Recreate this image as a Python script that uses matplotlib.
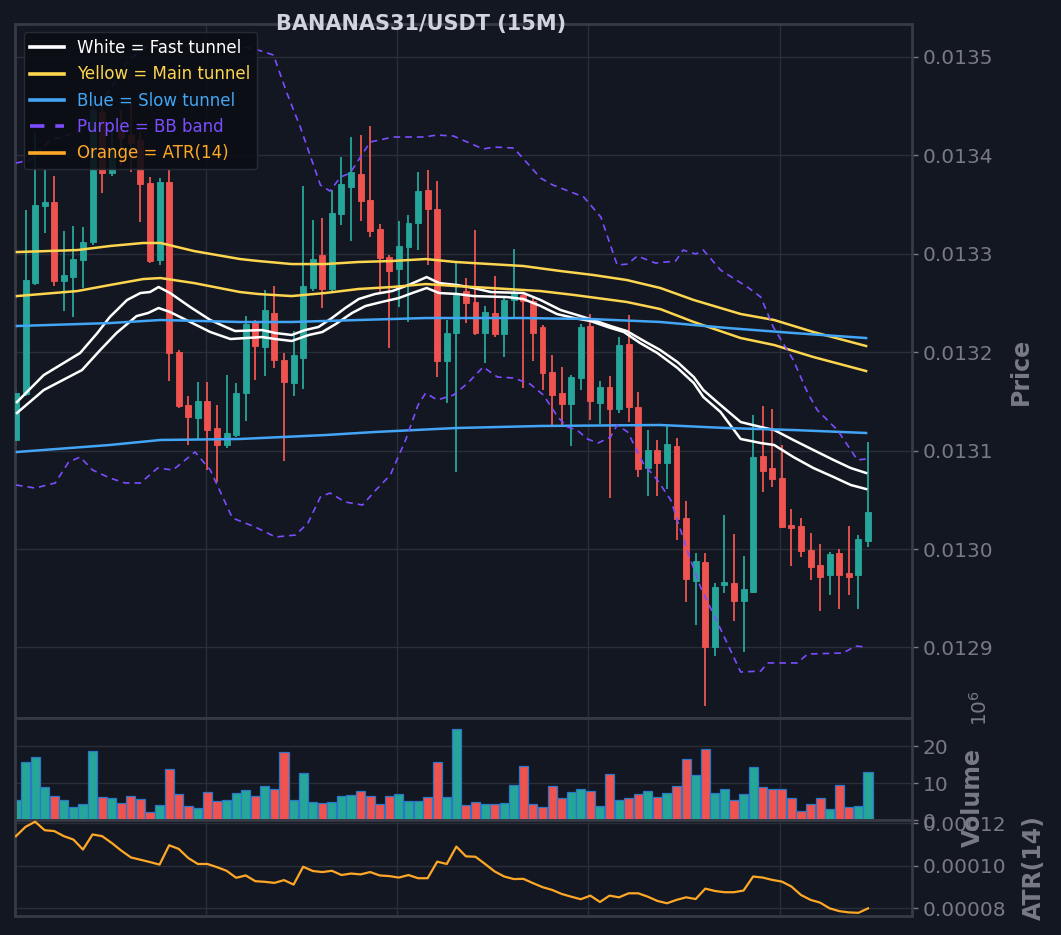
import numpy as np
import matplotlib
matplotlib.use("Agg")
import matplotlib.pyplot as plt
from matplotlib.ticker import FormatStrFormatter, FuncFormatter

# BANANAS31/USDT 15m candles
opens = [0.0131107, 0.0131574, 0.0132700, 0.0133482, 0.0133523, 0.0132721, 0.0132761, 0.0132934, 0.0133117, 0.0134436,
         0.0133817, 0.0134254, 0.0134203, 0.0134152, 0.0133716, 0.0132934, 0.0133726, 0.0132000, 0.0131462, 0.0131330,
         0.0131502, 0.0131228, 0.0131056, 0.0131157, 0.0131584, 0.0132294, 0.0132051, 0.0132396, 0.0131919, 0.0131685,
         0.0131939, 0.0132650, 0.0132985, 0.0132640, 0.0133401, 0.0133675, 0.0133807, 0.0133543, 0.0133249, 0.0132964,
         0.0132843, 0.0133066, 0.0133310, 0.0133645, 0.0133452, 0.0131909, 0.0132193, 0.0132619, 0.0132508, 0.0132193,
         0.0132396, 0.0132183, 0.0132528, 0.0132579, 0.0132518, 0.0132254, 0.0131797, 0.0131584, 0.0131472, 0.0131736,
         0.0132264, 0.0131482, 0.0131645, 0.0131421, 0.0132081, 0.0131442, 0.0130822, 0.0131005, 0.0130873, 0.0131046,
         0.0130315, 0.0129675, 0.0129868, 0.0129005, 0.0129635, 0.0129655, 0.0129472, 0.0129563, 0.0130944, 0.0130822,
         0.0130721, 0.0130244, 0.0130233, 0.0129990, 0.0129838, 0.0129736, 0.0129959, 0.0129756, 0.0129736, 0.0130081]
highs = [0.0131634, 0.0133441, 0.0134223, 0.0133848, 0.0133787, 0.0133228, 0.0133279, 0.0133269, 0.0134558, 0.0134558,
         0.0134304, 0.0134457, 0.0134528, 0.0134233, 0.0133777, 0.0133766, 0.0133848, 0.0132020, 0.0131553, 0.0131695,
         0.0131695, 0.0131462, 0.0131766, 0.0131685, 0.0132365, 0.0132325, 0.0132629, 0.0132670, 0.0131990, 0.0132213,
         0.0133685, 0.0133340, 0.0133360, 0.0133645, 0.0133980, 0.0134183, 0.0134203, 0.0134294, 0.0133299, 0.0132985,
         0.0133330, 0.0133391, 0.0133827, 0.0133848, 0.0133736, 0.0132325, 0.0132903, 0.0132751, 0.0133239, 0.0132467,
         0.0132772, 0.0132548, 0.0133046, 0.0132599, 0.0132548, 0.0132274, 0.0131970, 0.0131848, 0.0131766, 0.0132284,
         0.0132386, 0.0131706, 0.0131756, 0.0132152, 0.0132376, 0.0131594, 0.0131208, 0.0131107, 0.0131259, 0.0131127,
         0.0130487, 0.0129959, 0.0129959, 0.0129655, 0.0130345, 0.0130152, 0.0129929, 0.0131360, 0.0131452, 0.0131421,
         0.0131056, 0.0130406, 0.0130315, 0.0130162, 0.0130051, 0.0129970, 0.0130000, 0.0130233, 0.0130142, 0.0131086]
lows = [0.0131046, 0.0131553, 0.0132680, 0.0133208, 0.0132670, 0.0132416, 0.0132355, 0.0132650, 0.0133086, 0.0133614,
        0.0133787, 0.0133898, 0.0133827, 0.0133320, 0.0132903, 0.0132883, 0.0131706, 0.0131431, 0.0131056, 0.0131107,
        0.0130802, 0.0130680, 0.0131025, 0.0131137, 0.0131299, 0.0131716, 0.0131756, 0.0131838, 0.0130893, 0.0131553,
        0.0131624, 0.0132619, 0.0132447, 0.0132619, 0.0133289, 0.0133127, 0.0133330, 0.0133167, 0.0132599, 0.0132041,
        0.0132457, 0.0132305, 0.0133035, 0.0132883, 0.0131746, 0.0131482, 0.0130782, 0.0132294, 0.0132173, 0.0131888,
        0.0132152, 0.0131949, 0.0132355, 0.0131634, 0.0131909, 0.0131614, 0.0131259, 0.0131239, 0.0131046, 0.0131614,
        0.0131310, 0.0131269, 0.0130518, 0.0131381, 0.0131289, 0.0130731, 0.0130538, 0.0130538, 0.0130609, 0.0130091,
        0.0129462, 0.0129228, 0.0128406, 0.0128914, 0.0129553, 0.0129269, 0.0128954, 0.0129553, 0.0130579, 0.0130629,
        0.0130213, 0.0129827, 0.0129919, 0.0129685, 0.0129371, 0.0129533, 0.0129391, 0.0129533, 0.0129391, 0.0130020]
closes = [0.0131584, 0.0132731, 0.0133492, 0.0133523, 0.0132721, 0.0132782, 0.0132944, 0.0133117, 0.0134457, 0.0133817,
          0.0134051, 0.0134172, 0.0134122, 0.0133706, 0.0132924, 0.0133726, 0.0131990, 0.0131452, 0.0131340, 0.0131502,
          0.0131208, 0.0131056, 0.0131178, 0.0131584, 0.0132284, 0.0132061, 0.0132426, 0.0131919, 0.0131695, 0.0131970,
          0.0132670, 0.0132944, 0.0132640, 0.0133411, 0.0133706, 0.0133827, 0.0133533, 0.0133228, 0.0132954, 0.0132822,
          0.0133076, 0.0133310, 0.0133634, 0.0133452, 0.0131909, 0.0132193, 0.0132579, 0.0132497, 0.0132193, 0.0132406,
          0.0132183, 0.0132528, 0.0132609, 0.0132518, 0.0132193, 0.0131787, 0.0131563, 0.0131472, 0.0131746, 0.0132254,
          0.0131502, 0.0131645, 0.0131421, 0.0132071, 0.0131442, 0.0130812, 0.0131005, 0.0130873, 0.0131066, 0.0130305,
          0.0129695, 0.0129878, 0.0129005, 0.0129614, 0.0129665, 0.0129472, 0.0129594, 0.0130934, 0.0130792, 0.0130711,
          0.0130223, 0.0130213, 0.0129980, 0.0129817, 0.0129716, 0.0129949, 0.0129736, 0.0129716, 0.0130102, 0.0130376]

# volume in units (shown as x10^6 on the axis)
volume = [5.5e6, 15.7e6, 17.0e6, 8.9e6, 6.4e6, 5.5e6, 3.6e6, 4.4e6, 18.6e6, 6.25e6,
          6.0e6, 4.6e6, 6.4e6, 5.7e6, 2.1e6, 4.1e6, 13.75e6, 7.0e6, 3.75e6, 3.3e6,
          7.6e6, 5.1e6, 5.5e6, 7.3e6, 8.1e6, 6.4e6, 9.2e6, 8.4e6, 18.3e6, 5.3e6,
          12.7e6, 4.9e6, 4.55e6, 4.9e6, 6.5e6, 6.8e6, 7.9e6, 6.4e6, 4.3e6, 6.4e6,
          7.05e6, 5.2e6, 5.2e6, 6.25e6, 15.6e6, 6.25e6, 24.7e6, 4.1e6, 4.9e6, 4.3e6,
          4.3e6, 4.6e6, 9.5e6, 14.55e6, 4.3e6, 3.5e6, 9.1e6, 5.9e6, 7.6e6, 8.4e6,
          7.9e6, 3.8e6, 12.4e6, 5.5e6, 6.0e6, 7.05e6, 7.9e6, 6.25e6, 7.3e6, 9.2e6,
          16.4e6, 12.1e6, 19.1e6, 7.3e6, 8.4e6, 5.4e6, 7.05e6, 14.3e6, 8.9e6, 8.4e6,
          8.4e6, 6.0e6, 2.5e6, 4.4e6, 6.0e6, 3.0e6, 9.5e6, 3.6e6, 3.9e6, 12.9e6]

atr = [0.0001140, 0.0001184, 0.0001208, 0.0001168, 0.0001164, 0.0001140, 0.0001124, 0.0001077, 0.0001148, 0.0001140,
       0.0001108, 0.0001072, 0.0001040, 0.0001029, 0.0001018, 0.0001006, 0.0001097, 0.0001080, 0.0001037, 0.0001009,
       0.0001009, 0.0000994, 0.0000977, 0.0000944, 0.0000955, 0.0000928, 0.0000925, 0.0000920, 0.0000933, 0.0000912,
       0.0000996, 0.0000976, 0.0000971, 0.0000977, 0.0000957, 0.0000964, 0.0000960, 0.0000971, 0.0000955, 0.0000952,
       0.0000945, 0.0000957, 0.0000942, 0.0000942, 0.0001020, 0.0001009, 0.0001091, 0.0001045, 0.0001043, 0.0001009,
       0.0000974, 0.0000950, 0.0000938, 0.0000939, 0.0000919, 0.0000900, 0.0000887, 0.0000868, 0.0000855, 0.0000843,
       0.0000860, 0.0000830, 0.0000860, 0.0000852, 0.0000871, 0.0000871, 0.0000855, 0.0000835, 0.0000824, 0.0000840,
       0.0000852, 0.0000844, 0.0000893, 0.0000882, 0.0000876, 0.0000876, 0.0000884, 0.0000950, 0.0000945, 0.0000934,
       0.0000926, 0.0000903, 0.0000863, 0.0000840, 0.0000827, 0.0000800, 0.0000787, 0.0000781, 0.0000779, 0.0000800]

# tunnel / band lines, sampled at candle positions
fast_a_x = [0.1, 2.9, 6.7, 8.5, 9.8, 11.6, 13.0, 14.0, 14.9, 16.1, 18.2, 20.3, 21.9, 22.9, 25.7, 27.1, 28.8, 30.2,
            31.6, 33.0, 34.4, 35.8, 37.5, 39.3, 41.0, 42.9, 44.2, 46.1, 47.8, 49.6, 53.0, 54.8, 56.9, 58.6, 60.3,
            62.1, 63.8, 65.6, 67.3, 69.1, 70.8, 71.8, 73.6, 75.7, 77.8, 79.2, 81.2, 83.3, 85.4, 87.2, 88.8]
fast_a = [0.0131492, 0.0131766, 0.0131990, 0.0132193, 0.0132355, 0.0132528, 0.0132599, 0.0132609, 0.0132660, 0.0132599,
          0.0132457, 0.0132325, 0.0132254, 0.0132213, 0.0132223, 0.0132193, 0.0132173, 0.0132223, 0.0132254, 0.0132345,
          0.0132447, 0.0132538, 0.0132589, 0.0132619, 0.0132680, 0.0132761, 0.0132700, 0.0132680, 0.0132650, 0.0132609,
          0.0132599, 0.0132528, 0.0132426, 0.0132376, 0.0132325, 0.0132264, 0.0132213, 0.0132112, 0.0132020, 0.0131898,
          0.0131746, 0.0131614, 0.0131462, 0.0131289, 0.0131239, 0.0131208, 0.0131107, 0.0131005, 0.0130904, 0.0130822,
          0.0130772]
fast_b_x = [0.1, 2.9, 6.9, 8.8, 10.5, 12.6, 13.8, 14.9, 16.1, 18.2, 20.3, 22.4, 25.7, 27.1, 28.8, 30.6, 32.0, 33.4,
            35.1, 36.5, 38.2, 40.0, 41.4, 42.9, 44.2, 46.1, 47.8, 51.3, 53.0, 54.8, 56.5, 58.3, 60.0, 61.8, 63.5,
            65.2, 67.0, 69.1, 70.8, 71.8, 73.6, 75.7, 77.8, 79.2, 81.2, 83.3, 85.4, 87.2, 88.8]
fast_b = [0.0131381, 0.0131614, 0.0131817, 0.0132020, 0.0132193, 0.0132365, 0.0132396, 0.0132447, 0.0132406, 0.0132305,
          0.0132203, 0.0132132, 0.0132152, 0.0132132, 0.0132112, 0.0132173, 0.0132203, 0.0132284, 0.0132396, 0.0132467,
          0.0132508, 0.0132548, 0.0132599, 0.0132650, 0.0132599, 0.0132589, 0.0132568, 0.0132558, 0.0132538, 0.0132467,
          0.0132386, 0.0132345, 0.0132315, 0.0132254, 0.0132203, 0.0132091, 0.0131990, 0.0131838, 0.0131685, 0.0131543,
          0.0131391, 0.0131117, 0.0131076, 0.0131056, 0.0130934, 0.0130822, 0.0130731, 0.0130650, 0.0130609]

main_a_x = [0.1, 6.4, 9.8, 13.3, 15.1, 18.6, 23.4, 25.3, 28.8, 32.3, 35.8, 39.3, 42.8, 45.9, 47.8, 53.0, 56.9,
            60.3, 63.8, 67.3, 70.8, 75.7, 79.2, 83.3, 88.8]
main_a = [0.0133015, 0.0133035, 0.0133076, 0.0133107, 0.0133107, 0.0133025, 0.0132944, 0.0132924, 0.0132893, 0.0132893,
          0.0132914, 0.0132924, 0.0132944, 0.0132914, 0.0132903, 0.0132873, 0.0132822, 0.0132782, 0.0132731, 0.0132650,
          0.0132528, 0.0132386, 0.0132325, 0.0132203, 0.0132061]
main_b_x = [0.1, 6.4, 9.8, 13.3, 15.1, 18.6, 23.4, 25.3, 28.8, 32.3, 35.8, 39.3, 42.8, 45.9, 49.6, 54.8, 58.3,
            63.8, 67.3, 70.8, 75.7, 79.2, 83.3, 88.8]
main_b = [0.0132568, 0.0132619, 0.0132680, 0.0132741, 0.0132751, 0.0132700, 0.0132609, 0.0132589, 0.0132568, 0.0132599,
          0.0132640, 0.0132660, 0.0132690, 0.0132670, 0.0132650, 0.0132619, 0.0132579, 0.0132508, 0.0132436, 0.0132305,
          0.0132142, 0.0132071, 0.0131949, 0.0131807]

slow_a_x = [0.1, 9.8, 15.1, 23.4, 28.8, 35.8, 42.8, 53.0, 60.0, 67.3, 74.3, 81.2, 88.8]
slow_a = [0.0132264, 0.0132294, 0.0132325, 0.0132305, 0.0132305, 0.0132325, 0.0132345, 0.0132345, 0.0132335, 0.0132305,
          0.0132244, 0.0132193, 0.0132142]
slow_b_x = [0.1, 9.8, 15.1, 23.4, 32.3, 37.5, 45.9, 54.8, 67.3, 74.3, 81.2, 88.8]
slow_b = [0.0130985, 0.0131056, 0.0131107, 0.0131117, 0.0131157, 0.0131188, 0.0131228, 0.0131249, 0.0131259, 0.0131228,
          0.0131208, 0.0131178]

bb_up_x = [0.0, 1.5, 3.6, 6.4, 7.8, 9.8, 11.6, 13.3, 16.1, 20.6, 23.4, 25.3, 26.9, 28.3, 29.7, 31.8, 32.8, 33.9,
           34.9, 37.0, 39.4, 42.6, 44.0, 45.7, 48.8, 49.9, 52.0, 54.8, 56.1, 59.3, 61.1, 62.8, 63.9, 64.9, 66.8,
           68.9, 69.7, 71.0, 71.8, 73.6, 76.4, 77.8, 79.1, 81.2, 82.7, 83.7, 85.8, 87.9, 88.8]
bb_up = [0.0133919, 0.0133949, 0.0134152, 0.0134233, 0.0134406, 0.0134660, 0.0134944, 0.0135086, 0.0135107, 0.0135117,
         0.0135107, 0.0135066, 0.0135015, 0.0134629, 0.0134284, 0.0133695, 0.0133634, 0.0133776, 0.0133817, 0.0134132,
         0.0134183, 0.0134183, 0.0134203, 0.0134193, 0.0134061, 0.0134081, 0.0134071, 0.0133766, 0.0133695, 0.0133574,
         0.0133370, 0.0132883, 0.0132893, 0.0132975, 0.0132903, 0.0132924, 0.0133035, 0.0132995, 0.0133035, 0.0132832,
         0.0132660, 0.0132558, 0.0132254, 0.0131919, 0.0131584, 0.0131411, 0.0131208, 0.0130904, 0.0130914]
bb_lo_x = [0.0, 2.0, 4.1, 5.5, 6.7, 8.0, 9.8, 11.4, 13.0, 14.8, 16.4, 18.7, 20.3, 22.6, 25.0, 27.1, 29.2, 30.5,
           31.8, 32.8, 34.4, 36.2, 37.5, 39.1, 40.7, 42.0, 42.8, 44.0, 45.7, 47.2, 48.8, 50.3, 52.0, 53.7, 55.1,
           56.6, 57.6, 58.6, 59.7, 60.8, 62.1, 62.8, 63.9, 65.5, 67.0, 68.4, 70.1, 71.5, 73.3, 75.7, 77.8, 78.5,
           81.6, 82.7, 86.4, 87.7, 88.8]
bb_lo = [0.0130650, 0.0130619, 0.0130670, 0.0130883, 0.0130934, 0.0130802, 0.0130721, 0.0130670, 0.0130670, 0.0130822,
         0.0130802, 0.0130985, 0.0130802, 0.0130315, 0.0130223, 0.0130122, 0.0130142, 0.0130264, 0.0130528, 0.0130569,
         0.0130477, 0.0130447, 0.0130589, 0.0130751, 0.0131107, 0.0131462, 0.0131584, 0.0131513, 0.0131563, 0.0131685,
         0.0131848, 0.0131746, 0.0131736, 0.0131675, 0.0131563, 0.0131340, 0.0131239, 0.0131208, 0.0131117, 0.0131076,
         0.0131137, 0.0131259, 0.0131188, 0.0130873, 0.0130700, 0.0130497, 0.0129990, 0.0129614, 0.0129249, 0.0128751,
         0.0128761, 0.0128843, 0.0128843, 0.0128934, 0.0128944, 0.0129015, 0.0129005]

# colours
BG = '#131722'
GRID = '#2a2e39'
SPINE = '#363a45'
TXT = '#787b86'
GREEN = '#26a69a'
RED = '#ef5350'

o = np.array(opens)
h = np.array(highs)
l = np.array(lows)
c = np.array(closes)
idx = np.arange(len(o))
cols = np.where(c >= o, GREEN, RED)

fig = plt.figure(figsize=(10.61, 9.35), dpi=100, facecolor=BG)
gs = fig.add_gridspec(3, 1, height_ratios=[694, 102, 96], hspace=0,
                      left=0.0146, right=0.8596, top=0.9743, bottom=0.0203)
ax = fig.add_subplot(gs[0])
ax_vol = fig.add_subplot(gs[1], sharex=ax)
ax_atr = fig.add_subplot(gs[2], sharex=ax)

# candles
ax.vlines(idx, l, h, colors=cols, linewidth=1.3, zorder=2)
body_h = np.maximum(np.abs(c - o), 0.0000015)
ax.bar(idx, body_h, bottom=np.minimum(o, c), width=0.62, color=cols,
       edgecolor=cols, linewidth=0.6, zorder=3)

# tunnels and bands
lw = 1.8
l1, = ax.plot(fast_a_x, fast_a, color='#ffffff', lw=lw, zorder=4, label='White = Fast tunnel')
ax.plot(fast_b_x, fast_b, color='#ffffff', lw=lw, zorder=4)
l2, = ax.plot(main_a_x, main_a, color='#fdd54f', lw=lw, zorder=4, label='Yellow = Main tunnel')
ax.plot(main_b_x, main_b, color='#fdd54f', lw=lw, zorder=4)
l3, = ax.plot(slow_a_x, slow_a, color='#42a5f5', lw=lw, zorder=4, label='Blue = Slow tunnel')
ax.plot(slow_b_x, slow_b, color='#42a5f5', lw=lw, zorder=4)
l4, = ax.plot(bb_up_x, bb_up, color='#7c4dff', lw=1.2, ls=(0, (4, 3)), zorder=4, label='Purple = BB band')
ax.plot(bb_lo_x, bb_lo, color='#7c4dff', lw=1.2, ls=(0, (4, 3)), zorder=4)

# volume
ax_vol.bar(idx, volume, width=0.95, color=cols, edgecolor='#2b78c8', linewidth=0.9, zorder=2)

# ATR
l5, = ax_atr.plot(idx, atr, color='#ffa726', lw=1.6, zorder=3, label='Orange = ATR(14)')

leg = ax.legend(handles=[l1, l2, l3, l4, l5], loc='upper left', fontsize=12,
                labelcolor='linecolor', facecolor='#0b0e14', edgecolor=GRID,
                framealpha=0.9, handlelength=2.0)
for line in leg.get_lines():
    line.set_linewidth(2.6)
leg.set_zorder(10)

ax.set_xlim(-0.05, 93.6)
ax.set_ylim(0.0128284, 0.013533)
ax_vol.set_ylim(0, 27.6e6)
ax_atr.set_ylim(0.0000764, 0.0001216)

ax.set_yticks([0.0129, 0.0130, 0.0131, 0.0132, 0.0133, 0.0134, 0.0135])
ax.yaxis.set_major_formatter(FormatStrFormatter('%.4f'))
ax_vol.set_yticks([0, 10e6, 20e6])
ax_vol.yaxis.set_major_formatter(FuncFormatter(lambda v, p: f'{v / 1e6:g}'))
ax_atr.set_yticks([0.00008, 0.00010, 0.00012])
ax_atr.yaxis.set_major_formatter(FormatStrFormatter('%.5f'))
ax.set_xticks([19.8, 39.8, 59.8, 79.8])

for a in (ax, ax_vol, ax_atr):
    a.set_facecolor(BG)
    a.grid(True, color=GRID, linewidth=1)
    a.set_axisbelow(True)
    a.yaxis.tick_right()
    a.yaxis.set_label_position('right')
    a.tick_params(axis='y', labelsize=14.5, colors=TXT, length=4, width=1)
    a.tick_params(axis='x', length=0, labelbottom=False)
    for s in a.spines.values():
        s.set_color(SPINE)
        s.set_linewidth(2)

ax.set_ylabel('Price', fontsize=17, fontweight='bold', color=TXT, labelpad=11.5)
ax_atr.set_ylabel('ATR(14)', fontsize=17, fontweight='bold', color=TXT, labelpad=11.5)
# volume label sits lower, overlapping the ATR ticks as in the source
ax_vol.text(1.068, 0.22, 'Volume', transform=ax_vol.transAxes, rotation=90,
            ha='center', va='center', fontsize=17, fontweight='bold', color=TXT)
ax_vol.text(1.076, 1.1, r'$10^{6}$', transform=ax_vol.transAxes, rotation=90,
            ha='center', va='center', fontsize=14.5, color=TXT)

fig.text(0.397, 0.9743, 'BANANAS31/USDT (15M)', ha='center', va='center',
         fontsize=15, fontweight='bold', color='#d1d4dc')

fig.savefig('out.png', dpi=100, facecolor=BG)
